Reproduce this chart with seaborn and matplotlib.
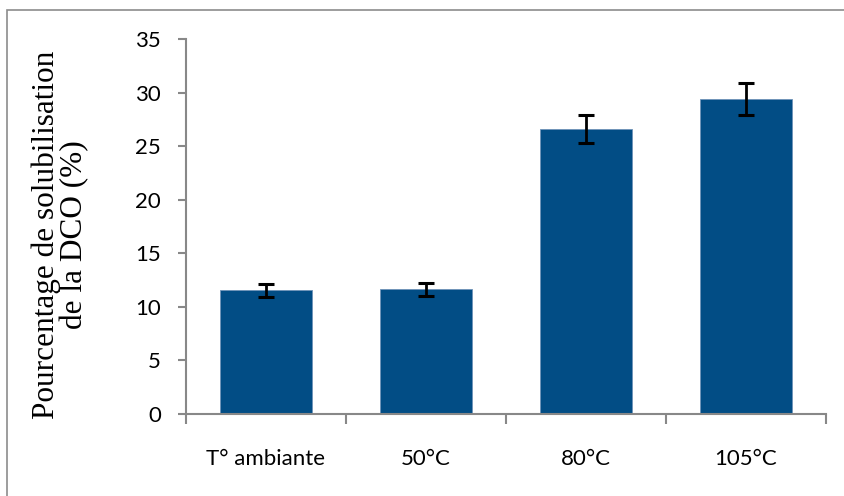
import matplotlib
matplotlib.use("Agg")
import matplotlib.pyplot as plt
from matplotlib.patches import Rectangle
import seaborn as sns
import pandas as pd

categories = ["T° ambiante", "50°C", "80°C", "105°C"]
solubilisation = [11.55, 11.65, 26.6, 29.4]
erreurs = [0.6, 0.6, 1.35, 1.45]
y_ticks = [0, 5, 10, 15, 20, 25, 30, 35]
y_title = "Pourcentage de solubilisation\nde la DCO (%)"

bar_color = "#024D85"
axis_gray = "#888888"

sns.set_theme(style="white")
plt.rcParams["font.family"] = ["Lato", "DejaVu Sans"]

df = pd.DataFrame({"temp": categories, "val": solubilisation})

fig = plt.figure(figsize=(8.45, 4.96), dpi=100)
ax = fig.add_axes([0.2201, 0.1653, 0.7574, 0.7561])

sns.barplot(data=df, x="temp", y="val", color=bar_color, saturation=1,
            width=0.58, errorbar=None, ax=ax, edgecolor="#6F93B8", linewidth=0.6)
ax.errorbar(range(len(categories)), solubilisation, yerr=erreurs, fmt="none",
            ecolor="black", elinewidth=2, capsize=5.5, capthick=2.2, zorder=5)

ax.set_xlim(-0.5, 3.5)
ax.set_ylim(0, 35)
ax.set_yticks(y_ticks)
ax.set_yticklabels([str(t) for t in y_ticks], fontsize=16, color="black")
ax.set_xticks(range(len(categories)))
ax.set_xticklabels(categories, fontsize=16, color="black")
ax.set_xticks([-0.5, 0.5, 1.5, 2.5, 3.5], minor=True)
ax.tick_params(axis="x", which="major", length=0, pad=25)
ax.tick_params(axis="x", which="minor", length=7, width=1.5, color=axis_gray, direction="out", bottom=True)
ax.tick_params(axis="y", which="major", length=6, width=1.5, color=axis_gray, direction="out", left=True, pad=12)

for side in ["top", "right"]:
    ax.spines[side].set_visible(False)
for side in ["left", "bottom"]:
    ax.spines[side].set_color(axis_gray)
    ax.spines[side].set_linewidth(1.5)

ax.set_xlabel("")
ax.set_ylabel(y_title, fontsize=22.5, family="Liberation Serif", color="black",
              linespacing=0.98, multialignment="center")
ax.yaxis.set_label_coords(-0.151, 0.477)

# outer frame around the chart area
fig.patches.append(Rectangle((7 / 845, -0.05), 1.2, (496 - 10) / 496 + 0.05,
                             transform=fig.transFigure, fill=False,
                             edgecolor="#8C8C8C", linewidth=1.2))

fig.savefig("out.png", dpi=100)
